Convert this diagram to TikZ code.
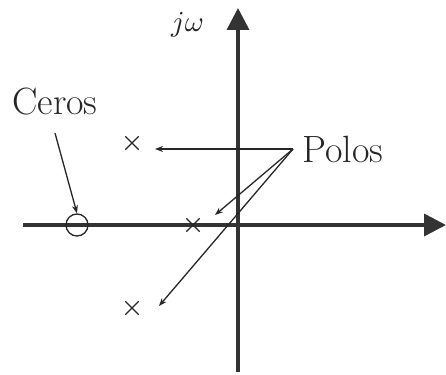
\documentclass[tikz,border=0pt]{standalone}
\usepackage{graphicx}
\usetikzlibrary{arrows.meta,shapes.misc}
\begin{document}
\begin{tikzpicture}[x=1pt,y=-1pt,
  axis/.style={line width=3.6pt,draw=black!80,-{Triangle[length=22pt,width=22pt]}},
  thin/.style={line width=1.3pt,draw=black!85,-{Stealth[length=8pt,width=6pt]}},
  lbl/.style={font=\fontsize{38}{42}\selectfont,inner sep=0pt,text=black!85},
  cross/.style={draw=black!85,line width=1.3pt,cross out,minimum size=12pt,inner sep=0pt},
  zero/.style={draw=black!85,line width=1.3pt,circle,minimum size=22pt,inner sep=0pt}]
\useasboundingbox (0,0) rectangle (446,374);
\coordinate (xl) at (23,225);
\coordinate (xr) at (446,225);
\coordinate (yb) at (238,372);
\coordinate (yt) at (238,8);
\draw[axis] (xl) -- (xr);
\draw[axis] (yb) -- (yt);
\node[lbl,font=\normalsize,anchor=base west] (jw) at (171,32) {\scalebox{2.9}{$j\omega$}};
\node[lbl,anchor=base west] (ceros) at (12,115) {Ceros};
\node[lbl,anchor=base west] (polos) at (302,162) {Polos};
\node[zero] (z1) at (77,225) {};
\node[cross] (p1) at (132,143) {};
\node[cross] (p2) at (193,225) {};
\node[cross] (p3) at (132,308) {};
\coordinate (cs) at (55,133);
\coordinate (ps) at (293,149);
\coordinate (e1) at (155,149);
\coordinate (e2) at (215,215);
\coordinate (e3) at (159,306);
\draw[thin] (cs) -- (z1.north);
\draw[thin] (ps) -- (e1);
\draw[thin] (ps) -- (e2);
\draw[thin] (ps) -- (e3);
\end{tikzpicture}
\end{document}
